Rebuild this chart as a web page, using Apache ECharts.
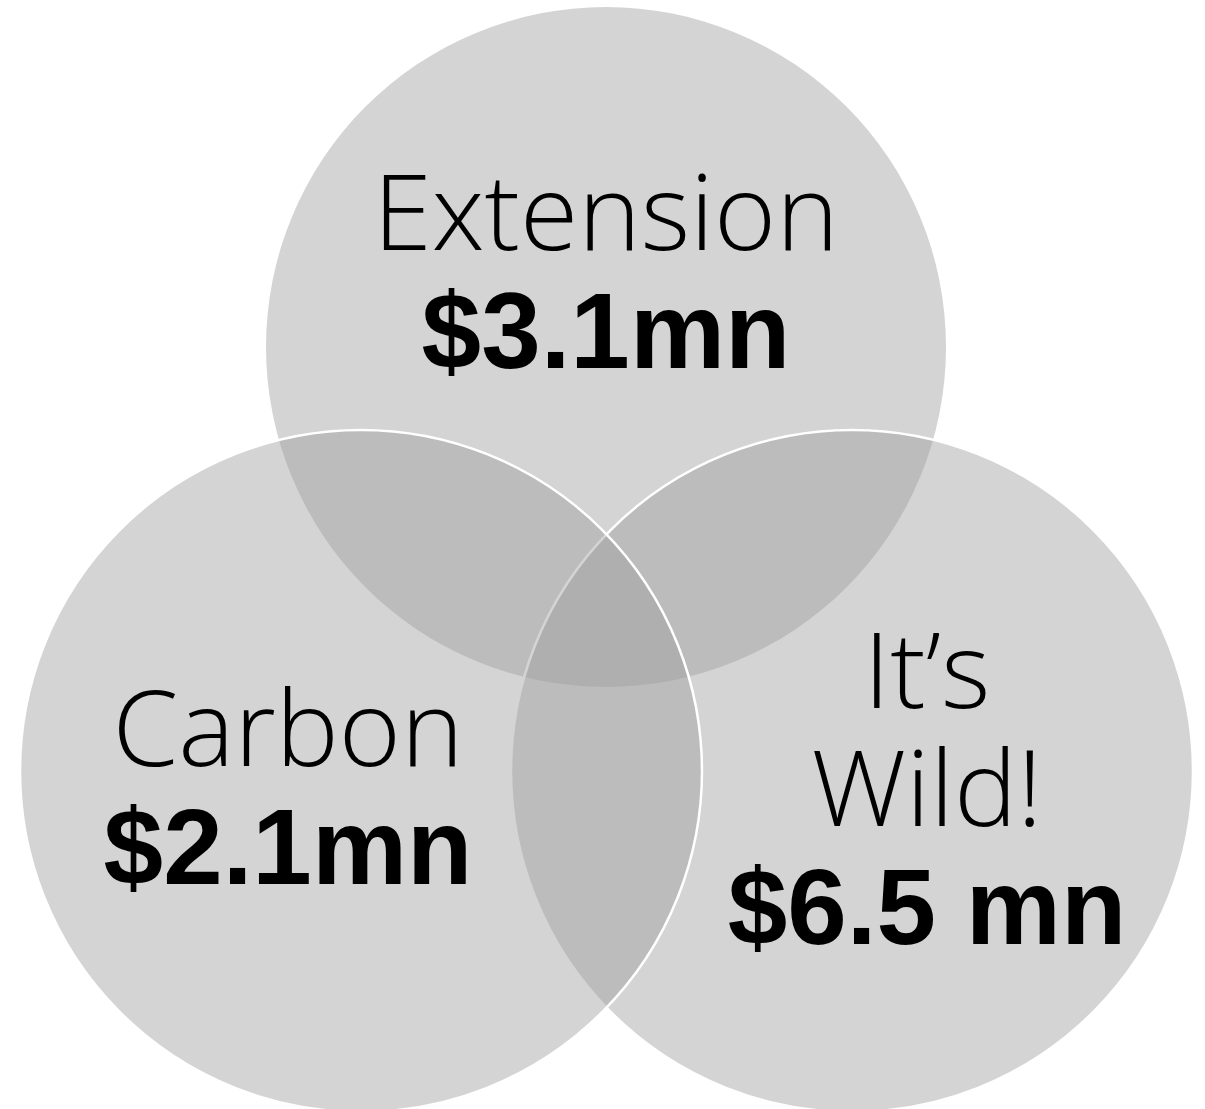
<!DOCTYPE html>
<html><head><meta charset="utf-8">
<script src="https://cdn.jsdelivr.net/npm/echarts@6/dist/echarts.min.js"></script>
<style>html,body{margin:0;padding:0;background:#fff}#c{width:1205px;height:1109px}</style>
</head><body><div id="c"></div>
<script>
// ---- data ----
const setNames = [['Extension'], ['Carbon'], ['It\u2019s', 'Wild!']];
const setAmounts = ['$3.1mn', '$2.1mn', '$6.5 mn'];

// ---- layout (axis units) ----
const circleCenters = [[606, 347], [361, 771], [852, 771]];
const circleRadii = [340, 341, 341];
const circleBorder = [0, 1, 1];
const drawOrder = [0, 2, 1];
const labelAnchors = [[606, 220], [288, 736], [927, 678]];
const lineGap = 118;
const amountShift = 0;

const thinFont = '300 106px "Open Sans", Lato, sans-serif';
const boldFont = 'bold 107px "Liberation Sans", Arial, sans-serif';

const circleData = drawOrder.map(i => [circleCenters[i][0], circleCenters[i][1], circleRadii[i], circleBorder[i], i]);
const labelData = labelAnchors.map((p, i) => [p[0], p[1], i]);

const chart = echarts.init(document.getElementById('c'), null, {renderer: 'canvas'});
chart.setOption({
  animation: false,
  backgroundColor: '#ffffff',
  grid: {left: 0, right: 0, top: 0, bottom: 0},
  xAxis: {type: 'value', min: 0, max: 1205, show: false},
  yAxis: {type: 'value', min: 0, max: 1109, inverse: true, show: false},
  series: [
    {
      type: 'custom', silent: true, clip: false,
      data: circleData,
      renderItem: function (params, api) {
        const c = api.coord([api.value(0), api.value(1)]);
        const s = api.size([api.value(2), api.value(2)]);
        const hasBorder = api.value(3) === 1;
        return {
          type: 'circle',
          shape: {cx: c[0], cy: c[1], r: s[0]},
          style: {
            fill: 'rgba(160,160,160,0.45)',
            stroke: hasBorder ? '#ffffff' : null,
            lineWidth: hasBorder ? 2.5 : 0
          }
        };
      }
    },
    {
      type: 'custom', silent: true, clip: false, z: 5,
      data: labelData,
      renderItem: function (params, api) {
        const idx = api.value(2);
        const c = api.coord([api.value(0), api.value(1)]);
        const lines = setNames[idx];
        const children = [];
        lines.forEach((t, k) => {
          children.push({type: 'text', style: {text: t, x: c[0], y: c[1] + k * lineGap, font: thinFont, fill: '#000', textAlign: 'center', textVerticalAlign: 'middle'}});
        });
        children.push({type: 'text', style: {text: setAmounts[idx], x: c[0], y: c[1] + lines.length * lineGap + amountShift, font: boldFont, fill: '#000', textAlign: 'center', textVerticalAlign: 'middle'}});
        return {type: 'group', children: children};
      }
    }
  ]
});
</script></body></html>
